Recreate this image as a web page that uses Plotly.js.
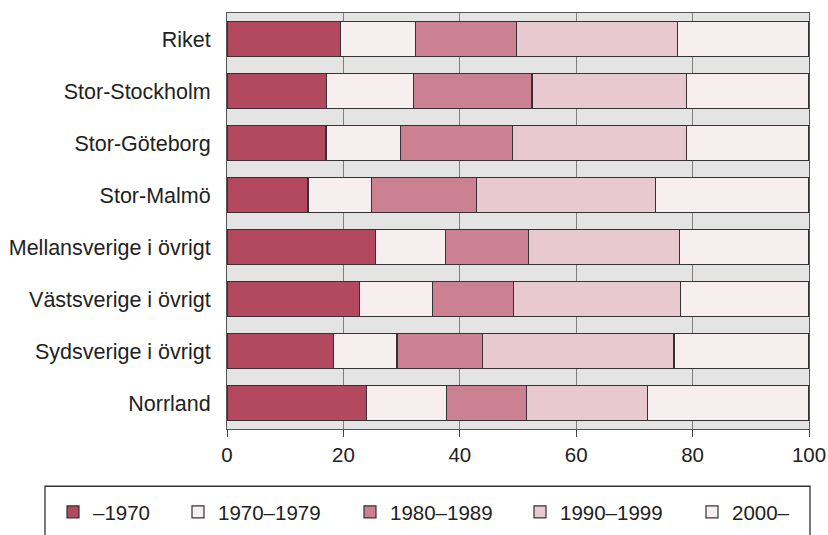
<!DOCTYPE html>
<html>
<head>
<meta charset="utf-8">
<script src="https://cdn.plot.ly/plotly-3.0.1.min.js"></script>
<style>html,body{margin:0;padding:0;background:#fff;}#chart{width:828px;height:535px;}</style>
</head>
<body>
<div id="chart"></div>
<script>
const regions = ["Riket", "Stor-Stockholm", "Stor-Göteborg", "Stor-Malmö",
  "Mellansverige i övrigt", "Västsverige i övrigt", "Sydsverige i övrigt", "Norrland"];
const seriesNames = ["–1970", "1970–1979", "1980–1989", "1990–1999", "2000–"];
const before1970 = [19.5, 17.1, 17.0, 13.9, 25.5, 22.8, 18.3, 24.0];
const p1970s     = [12.9, 14.9, 12.8, 10.9, 12.1, 12.5, 10.9, 13.7];
const p1980s     = [17.3, 20.4, 19.2, 18.1, 14.2, 13.9, 14.7, 13.7];
const p1990s     = [27.7, 26.5, 29.9, 30.7, 25.9, 28.7, 32.9, 20.8];
const from2000   = [22.6, 21.1, 21.1, 26.4, 22.3, 22.1, 23.2, 27.8];
const xTicks = [0, 20, 40, 60, 80, 100];

const seriesValues = [before1970, p1970s, p1980s, p1990s, from2000];
const colors = ["#b2495f", "#f6eeef", "#cb8191", "#e8c9cf", "#f6eeef"];
const legendIds = ["legend", "legend2", "legend3", "legend4", "legend5"];
const symbolCenters = [73, 198, 370, 540, 712];

const FONT = "Liberation Sans, Arial, sans-serif";

const traces = seriesValues.map((vals, i) => ({
  type: "bar",
  orientation: "h",
  name: seriesNames[i],
  y: regions,
  x: vals,
  marker: {color: colors[i], line: {color: "#333333", width: 1.2}},
  legend: legendIds[i],
  hoverinfo: "x+y+name"
}));

const layout = {
  width: 828, height: 535,
  margin: {l: 227, r: 19, t: 13, b: 105.6},
  paper_bgcolor: "#ffffff",
  plot_bgcolor: "#e4e4e4",
  barmode: "stack",
  bargap: 0.335,
  font: {family: FONT, size: 20.5, color: "#222222"},
  xaxis: {
    range: [0, 100],
    tickvals: xTicks,
    ticktext: xTicks.map(String),
    showgrid: true, gridcolor: "#7f7f7f", gridwidth: 1,
    zeroline: false,
    showline: true, linecolor: "#555555", linewidth: 1, mirror: true,
    ticks: "outside", ticklen: 7, tickcolor: "#444444", tickwidth: 1,
    tickfont: {family: FONT, size: 20.5, color: "#222222"},
    fixedrange: true
  },
  yaxis: {
    type: "category",
    categoryorder: "array",
    categoryarray: regions,
    autorange: "reversed",
    showgrid: false, zeroline: false,
    showline: true, linecolor: "#555555", linewidth: 1, mirror: true,
    ticks: "", ticklabelstandoff: 11,
    tickfont: {family: FONT, size: 21.5, color: "#222222"},
    fixedrange: true
  },
  showlegend: true,
  shapes: [{
    type: "rect", xref: "paper", yref: "paper",
    x0: (45 - 227) / 582, x1: (810 - 227) / 582,
    y0: (429.4 - 486.7) / 416.4, y1: (429.4 - 560) / 416.4,
    line: {color: "#333333", width: 1.3}, fillcolor: "rgba(0,0,0,0)", layer: "above"
  }]
};

legendIds.forEach((id, i) => {
  layout[id] = {
    orientation: "h",
    xref: "container", yref: "container",
    x: (symbolCenters[i] - 20) / 828,
    y: 1 - 512 / 535,
    xanchor: "left", yanchor: "middle",
    bgcolor: "rgba(0,0,0,0)", borderwidth: 0,
    font: {family: FONT, size: 20.5, color: "#222222"},
    itemclick: false, itemdoubleclick: false
  };
});

Plotly.newPlot("chart", traces, layout, {displayModeBar: false, staticPlot: true});
</script>
</body>
</html>
